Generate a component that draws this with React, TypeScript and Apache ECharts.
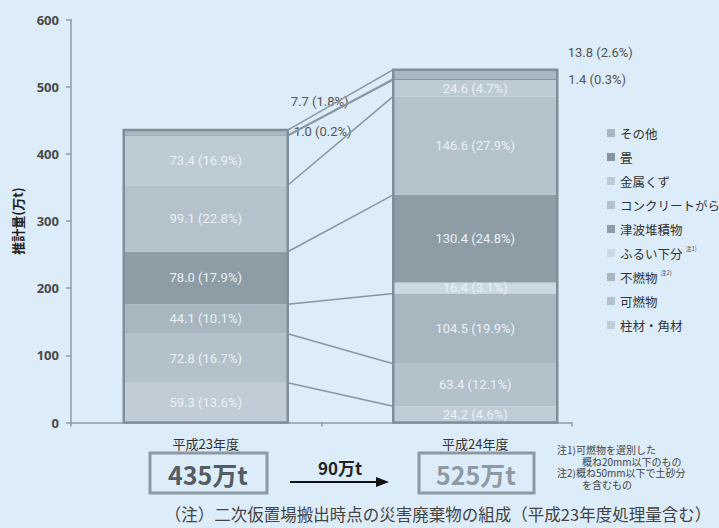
import React, { useEffect, useRef } from "react";
import * as echarts from "echarts";

// ---- data ----
const categories = ["平成23年度", "平成24年度"];
const materials = [
  "柱材・角材",
  "可燃物",
  "不燃物",
  "ふるい下分",
  "津波堆積物",
  "コンクリートがら",
  "金属くず",
  "畳",
  "その他",
];
const valuesH23: (number | null)[] = [59.3, 72.8, 44.1, null, 78.0, 99.1, 73.4, 1.0, 7.7];
const valuesH24: (number | null)[] = [24.2, 63.4, 104.5, 16.4, 130.4, 146.6, 24.6, 1.4, 13.8];
const pctH23: (number | null)[] = [13.6, 16.7, 10.1, null, 17.9, 22.8, 16.9, 0.2, 1.8];
const pctH24: (number | null)[] = [4.6, 12.1, 19.9, 3.1, 24.8, 27.9, 4.7, 0.3, 2.6];
const totalLabels = ["435万t", "525万t"];
const increaseLabel = "90万t";
const yMin = 0;
const yMax = 600;
const yInterval = 100;
const legendNotes: Record<string, string> = { "ふるい下分": "注1)", "不燃物": "注2)" };
const footNotes = ["注1)可燃物を選別した", "概ね20mm以下のもの", "注2)概ね50mm以下で土砂分", "を含むもの"];
const caption = "（注）二次仮置場搬出時点の災害廃棄物の組成（平成23年度処理量含む）";

// ---- styles ----
const BG = "#dcecf9";
const BAR_W = 164;
const colors = [
  "#c0cdd7",
  "#b3c1cb",
  "#a8b6c0",
  "#cbd9e3",
  "#8e9ca6",
  "#b4c2cc",
  "#bdcbd5",
  "#8795a0",
  "#a9b7c1",
];
const OUTLINE = "#7f8e99";
const AXIS = "#8d9ba6";
const JP = "'Noto Sans CJK JP', 'Noto Sans', sans-serif";
const NUM = "Roboto, 'Noto Sans CJK JP', sans-serif";
// label offsets for small segments shown outside (series index - category index -> offset)
const outsideLabelOffsets: Record<string, [number, number]> = {
  "8-0": [114, -31],
  "7-0": [117, -4],
  "8-1": [125, -22],
  "7-1": [122, 0],
};

export default function App() {
  const ref = useRef<HTMLDivElement>(null);
  useEffect(() => {
    if (!ref.current) return;
    const chart = echarts.init(ref.current, null, { renderer: "svg" });
    const sets = [valuesH23, valuesH24];
    const pcts = [pctH23, pctH24];

    const barSeries = materials.map((m, si) => ({
      name: m,
      type: "bar",
      stack: "total",
      barWidth: BAR_W,
      xAxisIndex: 0,
      yAxisIndex: 0,
      itemStyle: { color: colors[si] },
      data: sets.map((vals, ci) => {
        const v = vals[si];
        const p = pcts[ci][si];
        if (v == null) return { value: "-", label: { show: false } };
        const key = `${si}-${ci}`;
        const off = outsideLabelOffsets[key];
        return {
          value: v,
          label: {
            show: true,
            position: "inside",
            formatter: `${v.toFixed(1)} (${p!.toFixed(1)}%)`,
            color: off ? "#555555" : "#eaf0f5",
            fontSize: 13,
            fontFamily: NUM,
            offset: off || [0, 0],
          },
        };
      }),
    }));

    // cumulative boundaries
    const cum = sets.map((vals) => {
      let s = 0;
      return vals.map((v) => (s += v ?? 0));
    });
    const connectors: number[][] = [];
    materials.forEach((_, k) => {
      if (valuesH23[k] == null || valuesH24[k] == null) return;
      connectors.push([0, cum[0][k], cum[1][k]]);
    });
    const totals = cum.map((c) => c[c.length - 1]);

    const footText = footNotes.map((t, i) => `{${i % 2 === 0 ? "a" : "b"}|${t}}`).join("\n");

    chart.setOption({
      animation: false,
      backgroundColor: BG,
      grid: [
        { left: 71, right: 109, top: 19.5, bottom: 105.5 },
        { left: 71, right: 147, top: 19.5, bottom: 105.5 },
      ],
      legend: {
        orient: "vertical",
        left: 602,
        top: 120,
        icon: "rect",
        itemWidth: 8,
        itemHeight: 8,
        itemGap: 8,
        data: [...materials].reverse(),
        selectedMode: false,
        formatter: (name: string) => (legendNotes[name] ? `${name}{sup|${legendNotes[name]}}` : name),
        textStyle: {
          fontFamily: JP,
          fontSize: 12.5,
          color: "#333333",
          lineHeight: 16,
          rich: {
            sup: { fontSize: 6, color: "#555", verticalAlign: "top", padding: [0, 0, 8, 3] },
          },
        },
      },
      xAxis: [
        {
          type: "category",
          gridIndex: 0,
          data: categories,
          axisLine: { show: false },
          axisTick: { show: false },
          axisLabel: { margin: 14, fontSize: 13, color: "#333", fontFamily: JP },
        },
        {
          type: "category",
          gridIndex: 1,
          data: ["", ""],
          axisLine: { show: true, lineStyle: { color: AXIS, width: 1.5 } },
          axisTick: { show: true, length: 4, lineStyle: { color: AXIS, width: 1.5 } },
          axisLabel: { show: false },
        },
      ],
      yAxis: [
        {
          type: "value",
          gridIndex: 0,
          min: yMin,
          max: yMax,
          interval: yInterval,
          name: "推計量(万t)",
          nameLocation: "middle",
          nameRotate: 90,
          nameGap: 47,
          nameTextStyle: { fontFamily: JP, fontSize: 13, fontWeight: "bold", color: "#222" },
          axisLine: { show: true, lineStyle: { color: AXIS, width: 1.5 } },
          axisTick: { show: true, length: 5, lineStyle: { color: AXIS, width: 1.5 } },
          splitLine: { show: false },
          axisLabel: { margin: 12, fontSize: 13, fontWeight: "bold", color: "#4a4a4a", fontFamily: "'Open Sans', sans-serif" },
        },
        { type: "value", gridIndex: 1, min: yMin, max: yMax, show: false },
      ],
      series: [
        ...barSeries,
        {
          type: "custom",
          name: "connectors",
          xAxisIndex: 0,
          yAxisIndex: 0,
          encode: { x: 0, y: [1, 2] },
          data: connectors,
          z: 3,
          renderItem: (_p: any, api: any) => {
            const a = api.coord([0, api.value(1)]);
            const b = api.coord([1, api.value(2)]);
            return {
              type: "line",
              shape: { x1: a[0] + BAR_W / 2, y1: a[1], x2: b[0] - BAR_W / 2, y2: b[1] },
              style: { stroke: "#8796a1", lineWidth: 1.5 },
            };
          },
        },
        {
          type: "custom",
          name: "outline",
          xAxisIndex: 0,
          yAxisIndex: 0,
          encode: { x: 0, y: 1 },
          data: totals.map((t, i) => [i, t]),
          z: 4,
          renderItem: (_p: any, api: any) => {
            const top = api.coord([api.value(0), api.value(1)]);
            const bot = api.coord([api.value(0), 0]);
            return {
              type: "rect",
              shape: { x: top[0] - BAR_W / 2, y: top[1], width: BAR_W, height: bot[1] - top[1] },
              style: { fill: "none", stroke: OUTLINE, lineWidth: 2.5 },
            };
          },
        },
      ],
      graphic: [
        { type: "rect", shape: { x: 150, y: 453, width: 117, height: 40 }, style: { fill: "none", stroke: "#8b99a4", lineWidth: 3 } },
        { type: "text", x: 208, y: 474, style: { text: totalLabels[0], fill: "#555d63", font: `bold 25px ${JP}`, align: "center", verticalAlign: "middle" } },
        { type: "rect", shape: { x: 419, y: 453, width: 115, height: 40 }, style: { fill: "none", stroke: "#8b99a4", lineWidth: 3 } },
        { type: "text", x: 476, y: 474, style: { text: totalLabels[1], fill: "#8e9aa3", font: `bold 25px ${JP}`, align: "center", verticalAlign: "middle" } },
        { type: "line", shape: { x1: 290, y1: 482, x2: 378, y2: 482 }, style: { stroke: "#111", lineWidth: 2 } },
        { type: "polygon", shape: { points: [[376, 477], [389, 482], [376, 487]] }, style: { fill: "#111" } },
        { type: "text", x: 340, y: 467, style: { text: increaseLabel, fill: "#222", font: `bold 17px ${JP}`, align: "center", verticalAlign: "middle" } },
        {
          type: "text",
          x: 557,
          y: 444,
          style: {
            text: footText,
            fill: "#444",
            fontFamily: JP,
            fontSize: 10,
            lineHeight: 11.5,
            rich: {
              a: { fontFamily: JP, fontSize: 10, lineHeight: 11.5, fill: "#444" },
              b: { fontFamily: JP, fontSize: 10, lineHeight: 11.5, fill: "#444", padding: [0, 0, 0, 25] },
            },
          },
        },
        { type: "text", x: 438, y: 514, style: { text: caption, fill: "#444", font: `16.5px ${JP}`, align: "center", verticalAlign: "middle" } },
      ],
    });
    return () => chart.dispose();
  }, []);
  return <div ref={ref} style={{ position: "fixed", left: 0, top: 0, width: 719, height: 528 }} />;
}
